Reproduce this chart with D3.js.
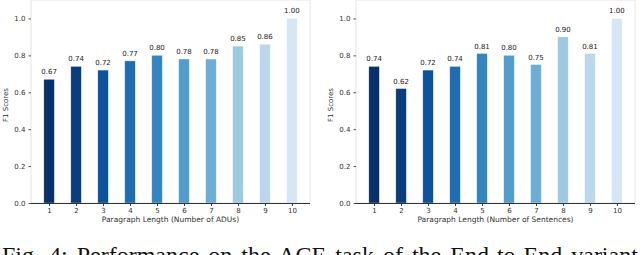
<!DOCTYPE html>
<html>
<head>
<meta charset="utf-8">
<script src="https://cdn.jsdelivr.net/npm/d3@7/dist/d3.min.js"></script>
<style>
  body { margin: 0; background: #fff; }
  svg { display: block; }
</style>
</head>
<body>
<svg id="fig" width="640" height="255"></svg>
<script>
// paragraph lengths 1..10
var lengths = [1, 2, 3, 4, 5, 6, 7, 8, 9, 10];
// F1 by number of ADUs (left) and by number of sentences (right)
var f1Adus = [0.67, 0.74, 0.72, 0.77, 0.80, 0.78, 0.78, 0.85, 0.86, 1.00];
var f1Sentences = [0.74, 0.62, 0.72, 0.74, 0.81, 0.80, 0.75, 0.90, 0.81, 1.00];
var yTicks = [0.0, 0.2, 0.4, 0.6, 0.8, 1.0];
var barColors = ["#08306b", "#0b3c7c", "#0c529d", "#1f6db2", "#3484bf",
                 "#529dcb", "#6daed6", "#9dc9e1", "#bcd6eb", "#d6e6f4"];

var svg = d3.select("#fig");

function panel(cfg) {
    var g = svg.append("g");
    var x = d3.scaleLinear().domain([0.33, 10.67]).range([cfg.left, cfg.right]);
    var y = d3.scaleLinear().domain([0, 1.1]).range([203, 0]);
    var bw = 10.5;

    // frame: light top/left/right, dark bottom
    g.append("rect")
        .attr("x", cfg.left).attr("y", y(1.1))
        .attr("width", cfg.right - cfg.left).attr("height", y(0) - y(1.1))
        .style("fill", "none").style("stroke", "#e6e6e6").style("stroke-width", 1);

    g.selectAll("rect.bar")
        .data(cfg.values)
        .enter().append("rect")
        .attr("class", "bar")
        .attr("x", function (d, i) { return x(lengths[i]) - bw / 2; })
        .attr("y", function (d) { return y(d); })
        .attr("width", bw)
        .attr("height", function (d) { return y(0) - y(d); })
        .style("fill", function (d, i) { return barColors[i]; })
        .style("stroke", "#ffffff").style("stroke-opacity", 0.5).style("stroke-width", 0.6);

    g.selectAll("text.val")
        .data(cfg.values)
        .enter().append("text")
        .attr("class", "val")
        .attr("x", function (d, i) { return x(lengths[i]); })
        .attr("y", function (d) { return y(d) - 5; })
        .attr("text-anchor", "middle")
        .style("font", "7px 'DejaVu Sans'")
        .style("fill", "#222")
        .text(function (d) { return d.toFixed(2); });

    var xAxis = d3.axisBottom(x).tickValues(lengths).tickSize(3).tickPadding(2)
        .tickFormat(d3.format("d"));
    var ax = g.append("g").attr("transform", "translate(0," + y(0) + ")").call(xAxis);
    ax.select(".domain").attr("d", "M" + cfg.left + ",0.5H" + cfg.right).style("stroke", "#333");
    ax.selectAll("text").style("font", "7px 'DejaVu Sans'").style("fill", "#333");
    ax.selectAll("line").style("stroke", "#333");

    var yAxis = d3.axisLeft(y).tickValues(yTicks).tickSize(2.5).tickPadding(3)
        .tickFormat(d3.format(".1f"));
    var ay = g.append("g").attr("transform", "translate(" + cfg.left + ",0)").call(yAxis);
    ay.select(".domain").remove();
    ay.selectAll("text").style("font", "7px 'DejaVu Sans'").style("fill", "#333");
    ay.selectAll("line").style("stroke", "#555");

    g.append("text")
        .attr("transform", "translate(" + cfg.ylabX + ",105) rotate(-90)")
        .attr("text-anchor", "middle")
        .style("font", "7px 'DejaVu Sans'").style("fill", "#333")
        .text("F1 Scores");

    g.append("text")
        .attr("x", (cfg.left + cfg.right) / 2).attr("y", 222)
        .attr("text-anchor", "middle")
        .style("font", "7.5px 'DejaVu Sans'").style("fill", "#333")
        .text(cfg.xTitle);
}

panel({ left: 31, right: 310, ylabX: 8, values: f1Adus,
        xTitle: "Paragraph Length (Number of ADUs)" });
panel({ left: 356, right: 635, ylabX: 333, values: f1Sentences,
        xTitle: "Paragraph Length (Number of Sentences)" });

// figure caption, cut by the bottom edge as in the source page
svg.append("text")
    .attr("x", 2).attr("y", 263)
    .style("font", "24px 'Liberation Serif'").style("word-spacing", "3px").style("fill", "#111")
    .text("Fig. 4: Performance on the ACE task of the End-to-End variant");
</script>
</body>
</html>
